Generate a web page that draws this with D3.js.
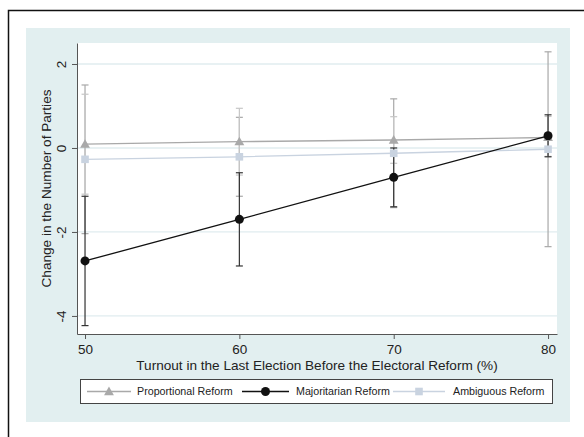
<!DOCTYPE html>
<html>
<head>
<meta charset="utf-8">
<script src="https://cdn.jsdelivr.net/npm/d3@7"></script>
<style>
  body { margin: 0; background: #fff; }
  text { font-family: "Liberation Sans", Arial, sans-serif; fill: #222; }
</style>
</head>
<body>
<div id="chart"></div>
<script>
// turnout levels (x) and predicted change with 95% CI, per reform type
const turnout = [50, 60, 70, 80];
const xTicks = [50, 60, 70, 80];
const yTicks = [2, 0, -2, -4];

const propEst = [0.09, 0.15, 0.19, 0.25];
const propLo  = [-1.10, -0.645, -0.365, -0.20];
const propHi  = [1.28, 0.945, 0.745, 0.75];

const majEst = [-2.69, -1.70, -0.70, 0.29];
const majLo  = [-4.23, -2.81, -1.40, -0.21];
const majHi  = [-1.15, -0.59, 0.0, 0.79];

const ambEst = [-0.27, -0.21, -0.126, -0.03];
const ambLo  = [-2.04, -1.15, -1.42, -2.35];
const ambHi  = [1.50, 0.73, 1.17, 2.29];

const legendLabels = ["Proportional Reform", "Majoritarian Reform", "Ambiguous Reform"];

const width = 584, height = 437;
const plot = {left: 77, top: 43, right: 557, bottom: 334};

const svg = d3.select("#chart").append("svg")
    .attr("width", width)
    .attr("height", height);

// outer frame and graph region
svg.append("rect")
    .attr("x", 8.5).attr("y", 10.5)
    .attr("width", 620).attr("height", 460)
    .attr("fill", "#fff")
    .attr("stroke", "#111")
    .attr("stroke-width", 1.5);

svg.append("rect")
    .attr("x", 26).attr("y", 28)
    .attr("width", 544).attr("height", 394)
    .attr("fill", "#e2eff0");

svg.append("rect")
    .attr("x", plot.left).attr("y", plot.top)
    .attr("width", plot.right - plot.left).attr("height", plot.bottom - plot.top)
    .attr("fill", "#fff");

const x = d3.scaleLinear()
    .domain([49.48, 80.58])
    .range([plot.left, plot.right]);

const y = d3.scaleLinear()
    .domain([-4.43, 2.5])
    .range([plot.bottom, plot.top]);

// gridlines
svg.selectAll(".grid")
    .data(yTicks)
    .enter().append("line")
    .attr("x1", plot.left + 1).attr("x2", plot.right)
    .attr("y1", d => y(d)).attr("y2", d => y(d))
    .attr("stroke", "#e0ecef")
    .attr("stroke-width", 1.3);

// axes
const yAxis = svg.append("g")
    .attr("transform", `translate(${plot.left},0)`)
    .call(d3.axisLeft(y).tickValues(yTicks).tickSize(5).tickSizeOuter(0).tickFormat(d3.format("d")));
yAxis.select(".domain").attr("stroke", "#555");
yAxis.selectAll(".tick line").attr("stroke", "#555");
yAxis.selectAll(".tick text")
    .attr("x", 0).attr("dy", 0)
    .attr("transform", "translate(-11,0) rotate(-90)")
    .attr("text-anchor", "middle")
    .attr("font-size", 13.5)
    .attr("fill", "#222")
    .text(d => d < 0 ? "-" + Math.abs(d) : d);

const xAxis = svg.append("g")
    .attr("transform", `translate(0,${plot.bottom})`)
    .call(d3.axisBottom(x).tickValues(xTicks).tickSize(5).tickSizeOuter(0));
xAxis.select(".domain").attr("stroke", "#555");
xAxis.selectAll(".tick line").attr("stroke", "#555");
xAxis.selectAll(".tick text")
    .attr("y", 10)
    .attr("font-size", 13.5)
    .attr("fill", "#222");

svg.append("text")
    .attr("transform", `translate(51,${(plot.top + plot.bottom) / 2}) rotate(-90)`)
    .attr("text-anchor", "middle")
    .attr("font-size", 13.6)
    .text("Change in the Number of Parties");

svg.append("text")
    .attr("x", (plot.left + plot.right) / 2)
    .attr("y", 370)
    .attr("text-anchor", "middle")
    .attr("font-size", 13.6)
    .text("Turnout in the Last Election Before the Electoral Reform (%)");

const series = [
    {est: ambEst, lo: ambLo, hi: ambHi, line: "#c9d3e0", ci: "#a8a8a8", shape: "square"},
    {est: propEst, lo: propLo, hi: propHi, line: "#a9a9a9", ci: "#c6c6c6", shape: "triangle"},
    {est: majEst, lo: majLo, hi: majHi, line: "#111", ci: "#333", shape: "circle"}
];

function drawCI(s) {
    const g = svg.append("g");
    const cap = 3.5;
    turnout.forEach((t, i) => {
        g.append("line")
            .attr("x1", x(t)).attr("x2", x(t))
            .attr("y1", y(s.lo[i])).attr("y2", y(s.hi[i]))
            .attr("stroke", s.ci).attr("stroke-width", 1.2);
        [s.lo[i], s.hi[i]].forEach(v => {
            g.append("line")
                .attr("x1", x(t) - cap).attr("x2", x(t) + cap)
                .attr("y1", y(v)).attr("y2", y(v))
                .attr("stroke", s.ci).attr("stroke-width", 1.2);
        });
    });
}

function drawMarker(g, shape, cx, cy, color) {
    if (shape === "circle") {
        g.append("circle").attr("cx", cx).attr("cy", cy).attr("r", 4.5).attr("fill", color);
    } else if (shape === "square") {
        g.append("rect").attr("x", cx - 3.8).attr("y", cy - 3.8)
            .attr("width", 7.6).attr("height", 7.6).attr("fill", color);
    } else {
        g.append("path")
            .attr("d", d3.symbol(d3.symbolTriangle, 42)())
            .attr("transform", `translate(${cx},${cy + 0.8})`)
            .attr("fill", color);
    }
}

const line = d3.line()
    .x((d, i) => x(turnout[i]))
    .y(d => y(d));

series.forEach(drawCI);

series.forEach(s => {
    svg.append("path")
        .attr("d", line(s.est))
        .attr("fill", "none")
        .attr("stroke", s.line)
        .attr("stroke-width", 1.3);
    const g = svg.append("g");
    s.est.forEach((v, i) => drawMarker(g, s.shape, x(turnout[i]), y(v), s.line));
});

// legend
const legend = svg.append("g");
legend.append("rect")
    .attr("x", 80.5).attr("y", 379.5)
    .attr("width", 472).attr("height", 24)
    .attr("fill", "#fff")
    .attr("stroke", "#444")
    .attr("stroke-width", 1);

const legendItems = [
    {label: legendLabels[0], s: series[1], x0: 87, x1: 131, tx: 137},
    {label: legendLabels[1], s: series[2], x0: 242, x1: 289, tx: 296},
    {label: legendLabels[2], s: series[0], x0: 393, x1: 445, tx: 453}
];
legendItems.forEach(it => {
    const ly = 391.5;
    legend.append("line")
        .attr("x1", it.x0).attr("x2", it.x1)
        .attr("y1", ly).attr("y2", ly)
        .attr("stroke", it.s.line).attr("stroke-width", 1.3);
    drawMarker(legend, it.s.shape, (it.x0 + it.x1) / 2, ly, it.s.line);
    legend.append("text")
        .attr("x", it.tx).attr("y", ly + 3.8)
        .attr("font-size", 10.7)
        .text(it.label);
});
</script>
</body>
</html>
